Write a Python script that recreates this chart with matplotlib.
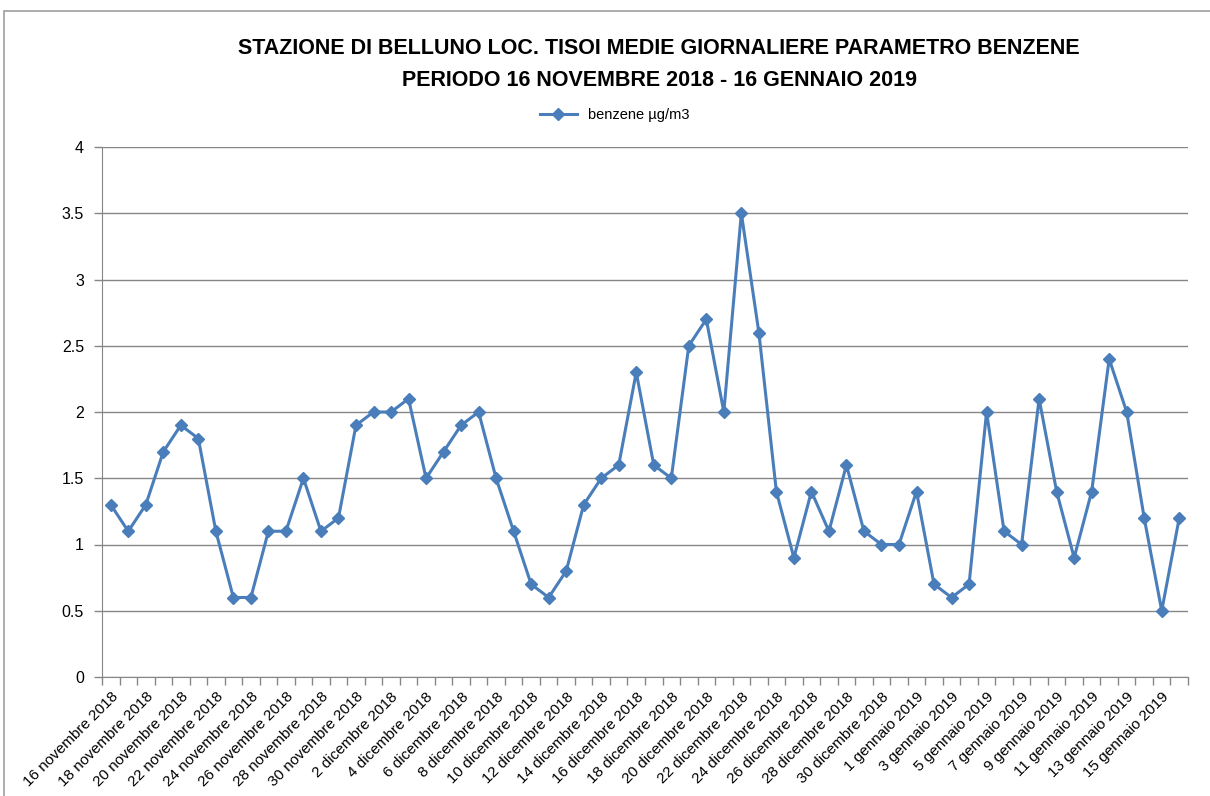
import matplotlib.pyplot as plt
import matplotlib.patches as mpatches
from matplotlib.ticker import FixedLocator

# dati: medie giornaliere benzene (µg/m3), 16/11/2018 - 16/01/2019
mesi_nov = [f'{d} novembre 2018' for d in range(16, 31)]
mesi_dic = [f'{d} dicembre 2018' for d in range(1, 32)]
mesi_gen = [f'{d} gennaio 2019' for d in range(1, 17)]
giorni = mesi_nov + mesi_dic + mesi_gen

benzene = [1.3, 1.1, 1.3, 1.7, 1.9, 1.8, 1.1, 0.6, 0.6, 1.1, 1.1, 1.5, 1.1, 1.2, 1.9,
           2.0, 2.0, 2.1, 1.5, 1.7, 1.9, 2.0, 1.5, 1.1, 0.7, 0.6, 0.8, 1.3, 1.5, 1.6,
           2.3, 1.6, 1.5, 2.5, 2.7, 2.0, 3.5, 2.6, 1.4, 0.9, 1.4, 1.1, 1.6, 1.1, 1.0,
           1.0, 1.4, 0.7, 0.6, 0.7, 2.0, 1.1, 1.0, 2.1, 1.4, 0.9, 1.4, 2.4, 2.0, 1.2,
           0.5, 1.2]

y_ticks = [0, 0.5, 1, 1.5, 2, 2.5, 3, 3.5, 4]
y_labels = ['0', '0.5', '1', '1.5', '2', '2.5', '3', '3.5', '4']

font = 'Liberation Sans'
blu = '#4A7EBB'

fig = plt.figure(figsize=(12.1, 7.96), dpi=100)
ax = fig.add_axes([102/1210, 1 - 677/796, (1188 - 102)/1210, (677 - 147)/796])

# bordo del grafico
fig.patches.append(mpatches.Rectangle((4/1210, -0.02), 1.05, 1 - 11/796 + 0.02,
                                      transform=fig.transFigure, fill=False,
                                      edgecolor='#A0A0A0', linewidth=1.2))

x = list(range(len(benzene)))
ax.plot(x, benzene, color=blu, linewidth=2.2, marker='D', markersize=6.5,
        markerfacecolor=blu, markeredgecolor=blu, label='benzene µg/m3')

ax.set_xlim(-0.5, len(benzene) - 0.5)
ax.set_yticks(y_ticks)
ax.set_yticklabels(y_labels, fontsize=11.5, family=font)
ax.set_ylim(0, 4)
ax.grid(axis='y', color='#868686', linewidth=1)
ax.set_axisbelow(True)

ax.set_xticks(x[::2])
ax.set_xticklabels(giorni[::2], rotation=45, ha='right', rotation_mode='anchor',
                   fontsize=11, family=font)
ax.xaxis.set_minor_locator(FixedLocator([i - 0.5 for i in range(len(benzene) + 1)]))
ax.tick_params(axis='x', which='major', length=0, pad=9)
ax.tick_params(axis='x', which='minor', length=6, color='#868686', width=1)
ax.tick_params(axis='y', length=6, color='#868686', width=1, pad=7)

for s in ['top', 'right']:
    ax.spines[s].set_visible(False)
ax.spines['left'].set_color('#868686')
ax.spines['bottom'].set_color('#868686')

fig.text(659/1210, 1 - 48/796, 'STAZIONE DI BELLUNO LOC. TISOI MEDIE GIORNALIERE PARAMETRO BENZENE',
         ha='center', va='center', fontsize=15.5, weight='bold', family=font)
fig.text(659/1210, 1 - 80/796, 'PERIODO 16 NOVEMBRE 2018 - 16 GENNAIO 2019',
         ha='center', va='center', fontsize=15.5, weight='bold', family=font)

fig.legend(loc='center', bbox_to_anchor=(615/1210, 1 - 115/796), frameon=False,
           prop={'family': font, 'size': 10.5}, handlelength=2.5)

plt.savefig('out.png', dpi=100, facecolor='white')
plt.close()
